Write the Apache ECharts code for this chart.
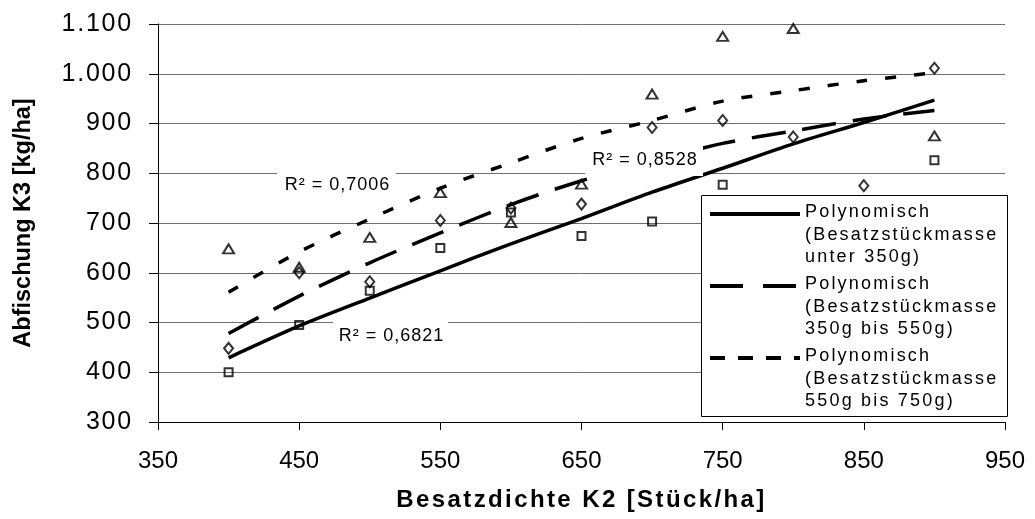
<!DOCTYPE html>
<html>
<head>
<meta charset="utf-8">
<script src="https://cdn.jsdelivr.net/npm/echarts@6/dist/echarts.min.js"></script>
<style>
html,body{margin:0;padding:0;background:#fff;}
#chart{width:1035px;height:519px;}
</style>
</head>
<body>
<div id="chart"></div>
<script>
// ---- data ----
const seriesNames = ['Besatzstückmasse unter 350g', 'Besatzstückmasse 350g bis 550g', 'Besatzstückmasse 550g bis 750g'];

const squareX = [400, 450, 500, 550, 600, 650, 700, 750, 900];
const squareY = [400, 495, 564, 650, 721, 674, 703, 777, 826];

const diamondX = [400, 450, 500, 550, 600, 650, 700, 750, 800, 850, 900];
const diamondY = [448, 600, 582, 705, 730, 738, 892, 906, 873, 775, 1011];

const triangleX = [400, 450, 500, 550, 600, 650, 700, 750, 800, 900];
const triangleY = [648, 611, 671, 761, 701, 778, 959, 1075, 1091, 875];

// polynomial trend lines
const trendX = [400, 450, 500, 550, 600, 650, 700, 750, 800, 850, 900];
const trendSolid  = [429, 493, 549, 604, 658, 709, 762, 810, 859, 902, 947];
const trendDashed = [478, 553, 620, 680, 737, 785, 824, 860, 885, 909, 926];
const trendDotted = [561, 642, 708, 770, 821, 870, 906, 945, 966, 986, 1002];

const legendLabels = [
  'Polynomisch\n(Besatzstückmasse\nunter 350g)',
  'Polynomisch\n(Besatzstückmasse\n350g bis 550g)',
  'Polynomisch\n(Besatzstückmasse\n550g bis 750g)'
];
const r2Labels = ['R² = 0,6821', 'R² = 0,7006', 'R² = 0,8528'];

const xTicks = {min: 350, max: 950, interval: 100};
const yTicks = {min: 300, max: 1100, interval: 100};
const xTitle = 'Besatzdichte K2 [Stück/ha]';
const yTitle = 'Abfischung K3 [kg/ha]';

// ---- text tracking (the reference text is set a little wide) ----
const TRACK = {ylab: '1.8px', leglab: '2.2px', rlab: '1px', xtitle: '2.4px'};
(function () {
  const P = CanvasRenderingContext2D.prototype;
  const orig = P.fillText;
  P.fillText = function (t, x, y, m) {
    let ls = '0px';
    const f = this.font || '';
    for (const k in TRACK) { if (f.indexOf(k) >= 0) { ls = TRACK[k]; break; } }
    if ('letterSpacing' in this) this.letterSpacing = ls;
    return m === undefined ? orig.call(this, t, x, y) : orig.call(this, t, x, y, m);
  };
})();

// ---- build ----
const zip = (xs, ys) => xs.map((x, i) => [x, ys[i]]);
const BASE = '"Liberation Sans", Arial, sans-serif';
const fam = (tag) => tag + ', ' + BASE;

function fmtDE(v) {
  return String(v).replace(/\B(?=(\d{3})+(?!\d))/g, '.');
}

const markerStyle = {color: 'rgba(0,0,0,0)', borderColor: '#000', borderWidth: 2};

const chart = echarts.init(document.getElementById('chart'), null, {renderer: 'canvas'});

const dashLong = [34, 17];
const dashShort = [11, 18];

const legendX = 701, legendY = 195, legendW = 306, legendH = 221;
const rowTop = [201, 273, 345];
const legendDash = [null, [33, 20], [15, 13]];

const graphics = [
  {type: 'rect', z: 100, shape: {x: legendX + 0.5, y: legendY + 0.5, width: legendW, height: legendH},
   style: {fill: '#fff', stroke: '#000', lineWidth: 1}}
];
legendLabels.forEach((t, i) => {
  graphics.push({type: 'line', z: 101, shape: {x1: 710, y1: rowTop[i] + 13, x2: 800, y2: rowTop[i] + 13},
    style: {stroke: '#000', lineWidth: 4, lineDash: legendDash[i]}});
  graphics.push({type: 'text', z: 101, x: 805, y: rowTop[i],
    style: {text: t, font: '18px ' + fam('leglab'), fill: '#000', lineHeight: 22.5, verticalAlign: 'top', align: 'left'}});
});
// R² labels on white boxes
const r2Box = [[333, 319, 115, 33], [277, 168, 119, 33], [585, 142, 118, 34]];
r2Labels.forEach((t, i) => {
  const b = r2Box[i];
  graphics.push({type: 'rect', z: 100, shape: {x: b[0], y: b[1], width: b[2], height: b[3]},
    style: {fill: '#fff', stroke: null}});
  graphics.push({type: 'text', z: 101, x: b[0] + b[2] / 2 + 1, y: b[1] + b[3] / 2 + 1,
    style: {text: t, font: '18px ' + fam('rlab'), fill: '#000', align: 'center', verticalAlign: 'middle'}});
});

const option = {
  animation: false,
  backgroundColor: '#fff',
  grid: {left: 158, right: 30, top: 24, bottom: 97, containLabel: false},
  xAxis: {
    type: 'value', min: xTicks.min, max: xTicks.max, interval: xTicks.interval,
    name: xTitle, nameLocation: 'middle', nameGap: 66,
    nameTextStyle: {fontFamily: fam('xtitle'), fontWeight: 'bold', fontSize: 24, color: '#000'},
    axisLine: {show: true, lineStyle: {color: '#000', width: 1}},
    axisTick: {show: true, inside: false, length: 8, lineStyle: {color: '#000'}},
    axisLabel: {fontFamily: BASE, fontSize: 24, color: '#000', margin: 27},
    splitLine: {show: false}
  },
  yAxis: {
    type: 'value', min: yTicks.min, max: yTicks.max, interval: yTicks.interval,
    name: yTitle, nameLocation: 'middle', nameGap: 122, nameRotate: 90,
    nameTextStyle: {fontFamily: BASE, fontWeight: 'bold', fontSize: 23.5, color: '#000'},
    axisLine: {show: true, lineStyle: {color: '#000', width: 1}},
    axisTick: {show: true, inside: false, length: 9, lineStyle: {color: '#000'}},
    axisLabel: {fontFamily: fam('ylab'), fontSize: 25, color: '#000', margin: 25, formatter: fmtDE},
    splitLine: {show: true, lineStyle: {color: '#6e6e6e', width: 1}}
  },
  graphic: graphics,
  series: [
    {name: seriesNames[0], type: 'scatter', data: zip(squareX, squareY), symbol: 'rect', symbolSize: 8,
     itemStyle: markerStyle, z: 3},
    {name: seriesNames[1], type: 'scatter', data: zip(diamondX, diamondY), symbol: 'diamond', symbolSize: [9, 11],
     itemStyle: markerStyle, z: 3},
    {name: seriesNames[2], type: 'scatter', data: zip(triangleX, triangleY), symbol: 'triangle', symbolSize: [11, 9],
     itemStyle: markerStyle, z: 3},
    {name: 'Polynomisch (' + seriesNames[0] + ')', type: 'line', data: zip(trendX, trendSolid), showSymbol: false,
     smooth: 0.3, lineStyle: {color: '#000', width: 3.5, type: 'solid'}, z: 4},
    {name: 'Polynomisch (' + seriesNames[1] + ')', type: 'line', data: zip(trendX, trendDashed), showSymbol: false,
     smooth: 0.3, lineStyle: {color: '#000', width: 3.5, type: dashLong}, z: 4},
    {name: 'Polynomisch (' + seriesNames[2] + ')', type: 'line', data: zip(trendX, trendDotted), showSymbol: false,
     smooth: 0.3, lineStyle: {color: '#000', width: 3.5, type: dashShort}, z: 4}
  ]
};
chart.setOption(option);
</script>
</body>
</html>
